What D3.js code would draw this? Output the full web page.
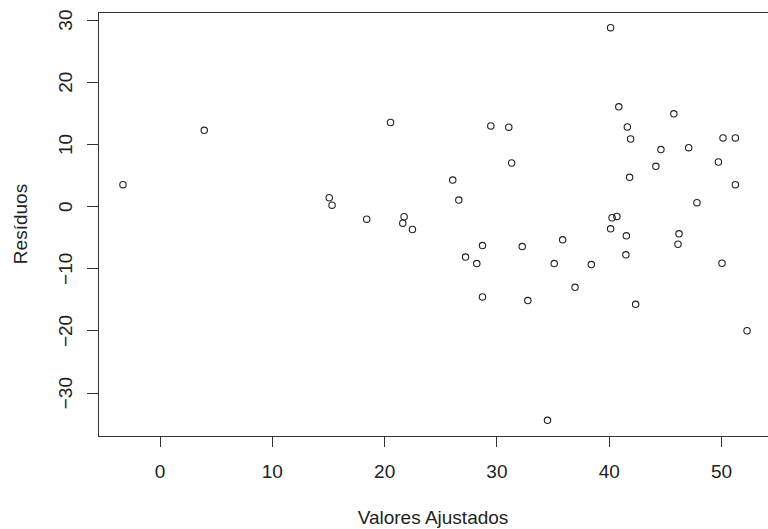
<!DOCTYPE html>
<html>
<head>
<meta charset="utf-8">
<script src="https://cdn.jsdelivr.net/npm/d3@7"></script>
<style>
  html, body { margin: 0; padding: 0; background: #fff; }
  svg { display: block; }
  text { font-family: "Liberation Sans", Arial, sans-serif; fill: #222; }
</style>
</head>
<body>
<svg id="chart" width="768" height="529"></svg>
<script>
// Fitted values (x) and residuals (y)
const fitted = [
  -3.26, 3.98, 15.11, 15.36, 18.45, 20.57, 21.78, 21.66, 22.52,
  29.5, 31.1, 31.35, 26.11, 26.65, 28.76, 32.3, 27.25, 28.25, 35.15, 28.76, 32.8,
  40.17, 40.9, 41.66, 41.95, 44.65, 44.2, 41.86, 40.3, 40.73, 40.17, 41.57,
  35.9, 38.45, 37.0, 41.53, 42.4, 34.55,
  45.8, 50.18, 51.28, 47.12, 49.77, 51.28, 47.86, 46.26, 46.17, 50.09, 52.32
];
const residuals = [
  3.45, 12.2, 1.35, 0.16, -2.1, 13.45, -1.71, -2.74, -3.76,
  12.9, 12.7, 6.94, 4.19, 0.97, -6.34, -6.5, -8.2, -9.24, -9.24, -14.6, -15.2,
  28.7, 15.97, 12.74, 10.8, 9.1, 6.4, 4.63, -1.87, -1.66, -3.65, -4.77,
  -5.42, -9.4, -13.06, -7.84, -15.8, -34.45,
  14.84, 10.97, 10.97, 9.4, 7.1, 3.45, 0.55, -4.45, -6.13, -9.19, -20.05
];
const xTicks = [0, 10, 20, 30, 40, 50];
const yTicks = [-30, -20, -10, 0, 10, 20, 30];
const xLabel = "Valores Ajustados";
const yLabel = "Resíduos";

(function () {
  const svg = d3.select("#chart");
  const pL = 98, pR = 772, pT = 12, pB = 436;

  // R-style 4% extension of data range
  const xe = d3.extent(fitted), ye = d3.extent(residuals);
  const xpad = (xe[1] - xe[0]) * 0.04, ypad = (ye[1] - ye[0]) * 0.04;
  const x = d3.scaleLinear().domain([xe[0] - xpad, xe[1] + xpad]).range([pL, pR]);
  const y = d3.scaleLinear().domain([ye[0] - ypad, ye[1] + ypad]).range([pB, pT]);

  const fontSize = 19;
  const ff = '"Liberation Sans", Arial, sans-serif';

  // Box
  svg.append("rect")
    .attr("x", pL).attr("y", pT)
    .attr("width", pR - pL).attr("height", pB - pT)
    .attr("fill", "none").attr("stroke", "#333").attr("stroke-width", 1)
    .attr("shape-rendering", "crispEdges");

  // X axis
  const gx = svg.append("g")
    .attr("transform", `translate(0,${pB})`)
    .call(d3.axisBottom(x).tickValues(xTicks).tickSize(11).tickSizeOuter(0).tickFormat(d3.format("d")));
  gx.select(".domain").remove();
  gx.selectAll("line").attr("stroke", "#333").attr("shape-rendering", "crispEdges");
  gx.selectAll("text")
    .attr("y", 41.5).attr("dy", 0)
    .style("font-size", fontSize + "px")
    .style("font-family", ff)
    .attr("fill", "#222");

  // Y axis
  const gy = svg.append("g")
    .attr("transform", `translate(${pL},0)`)
    .call(d3.axisLeft(y).tickValues(yTicks).tickSize(11).tickSizeOuter(0).tickFormat(d3.format("d")));
  gy.select(".domain").remove();
  gy.selectAll("line").attr("stroke", "#333").attr("shape-rendering", "crispEdges");
  gy.selectAll("text")
    .attr("transform", "rotate(-90)")
    .attr("x", 0).attr("y", -26.5).attr("dy", 0)
    .attr("text-anchor", "middle")
    .style("font-size", fontSize + "px")
    .style("font-family", ff)
    .attr("fill", "#222");

  // Axis titles
  svg.append("text")
    .attr("x", (98 + 768) / 2).attr("y", 523.5)
    .attr("text-anchor", "middle")
    .style("font-size", fontSize + "px")
    .style("font-family", ff)
    .text(xLabel);

  svg.append("text")
    .attr("transform", `translate(26.5,${(pT + pB) / 2}) rotate(-90)`)
    .attr("text-anchor", "middle")
    .style("font-size", fontSize + "px")
    .style("font-family", ff)
    .text(yLabel);

  // Points
  svg.append("g").selectAll("circle")
    .data(fitted.map((f, i) => [f, residuals[i]]))
    .join("circle")
    .attr("cx", d => x(d[0]))
    .attr("cy", d => y(d[1]))
    .attr("r", 3.2)
    .attr("fill", "none")
    .attr("stroke", "#222")
    .attr("stroke-width", 1.1);
})();
</script>
</body>
</html>
